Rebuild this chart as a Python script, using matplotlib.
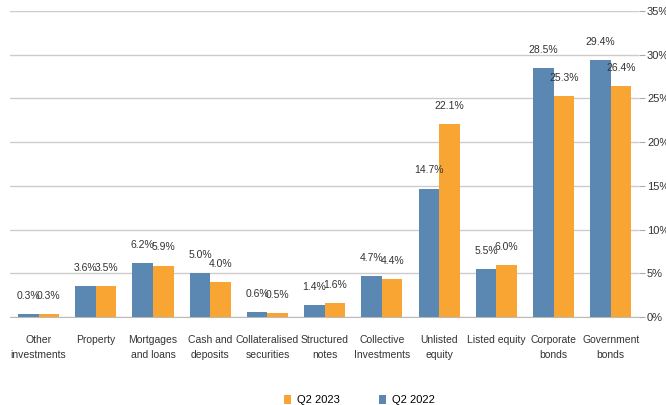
import numpy as np
import matplotlib
matplotlib.use('Agg')
import matplotlib.pyplot as plt
from matplotlib.ticker import FuncFormatter

plt.rcParams['font.family'] = ['Liberation Sans Narrow', 'Liberation Sans', 'DejaVu Sans']

categories = ['Other\ninvestments', 'Property', 'Mortgages\nand loans', 'Cash and\ndeposits',
              'Collateralised\nsecurities', 'Structured\nnotes', 'Collective\nInvestments',
              'Unlisted\nequity', 'Listed equity', 'Corporate\nbonds', 'Government\nbonds']
q2_2022 = [0.3, 3.6, 6.2, 5.0, 0.6, 1.4, 4.7, 14.7, 5.5, 28.5, 29.4]
q2_2023 = [0.3, 3.5, 5.9, 4.0, 0.5, 1.6, 4.4, 22.1, 6.0, 25.3, 26.4]

blue = '#5b87b3'
orange = '#f9a533'

fig = plt.figure(figsize=(6.66, 4.05), dpi=100)
ax = fig.add_axes([0.015, 0.217, 0.945, 0.756])

x = np.arange(len(categories))
w = 0.36
b1 = ax.bar(x - w / 2, q2_2022, w, color=blue, label='Q2 2022', zorder=3)
b2 = ax.bar(x + w / 2, q2_2023, w, color=orange, label='Q2 2023', zorder=3)

for bars in (b1, b2):
    for r in bars:
        ax.text(r.get_x() + r.get_width() / 2, r.get_height() + 1.5, f'{r.get_height():.1f}%',
                ha='center', va='bottom', fontsize=7.5, color='#333333')

ax.set_xlim(-0.5, len(categories) - 0.5)
ax.set_ylim(0, 35)
ax.set_yticks(np.arange(0, 36, 5))
ax.yaxis.set_major_formatter(FuncFormatter(lambda v, p: f'{v:.0f}%'))
ax.yaxis.tick_right()
ax.tick_params(axis='y', length=4, color='#aaaaaa', labelsize=8, labelcolor='#333333', pad=1.5)
ax.tick_params(axis='x', length=0, labelsize=7.5, labelcolor='#333333', pad=13)
ax.set_xticks(x)
ax.set_xticklabels(categories, linespacing=1.6)
ax.grid(axis='y', color='#cccccc', linewidth=1, zorder=0)
for s in ['top', 'left', 'right']:
    ax.spines[s].set_visible(False)
ax.spines['bottom'].set_color('#bbbbbb')

handles, labels = ax.get_legend_handles_labels()
fig.legend(handles[::-1], labels[::-1], loc='lower center', bbox_to_anchor=(0.54, -0.025), ncol=2,
           frameon=False, fontsize=8, handlelength=0.6, handleheight=0.9, columnspacing=3.5,
           handletextpad=0.6)

fig.savefig('out.png', dpi=100)
